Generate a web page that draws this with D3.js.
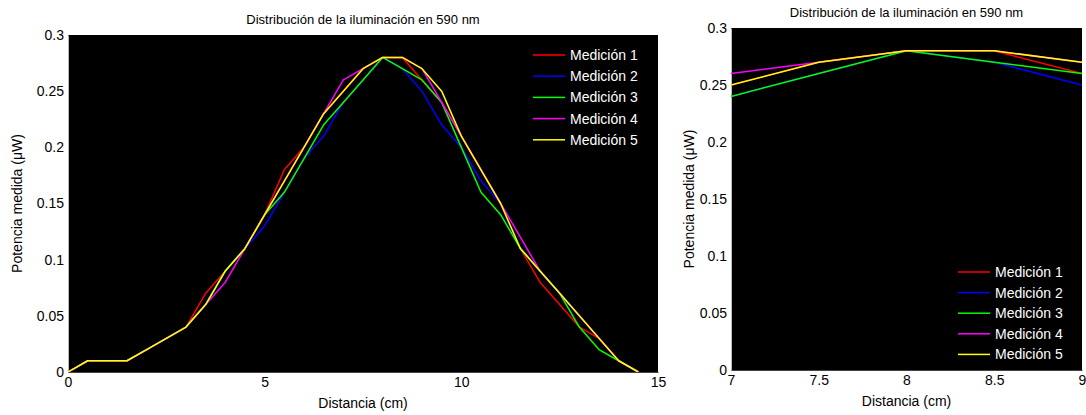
<!DOCTYPE html>
<html>
<head>
<meta charset="utf-8">
<script src="https://cdn.jsdelivr.net/npm/d3@7/dist/d3.min.js"></script>
<style>
  html, body { margin: 0; padding: 0; background: #fff; }
  svg { display: block; font-family: "Liberation Sans", Arial, sans-serif; }
</style>
</head>
<body>
<svg id="chart" width="1086" height="415"></svg>
<script>
// Distance along the sample (cm)
const distancia = [0, 0.5, 1, 1.5, 2, 2.5, 3, 3.5, 4, 4.5, 5, 5.5, 6, 6.5, 7, 7.5,
                   8, 8.5, 9, 9.5, 10, 10.5, 11, 11.5, 12, 12.5, 13, 13.5, 14, 14.5];

// Measured power (µW), five repeated measurements
const medicion1 = [0, 0.01, 0.01, 0.01, 0.02, 0.03, 0.04, 0.07, 0.09, 0.11, 0.14, 0.18, 0.20, 0.23, 0.25, 0.27,
                   0.28, 0.28, 0.26, 0.24, 0.21, 0.18, 0.15, 0.11, 0.08, 0.06, 0.04, 0.03, 0.01, 0];
const medicion2 = [0, 0.01, 0.01, 0.01, 0.02, 0.03, 0.04, 0.06, 0.09, 0.11, 0.13, 0.16, 0.19, 0.21, 0.24, 0.26,
                   0.28, 0.27, 0.25, 0.22, 0.20, 0.17, 0.15, 0.11, 0.09, 0.07, 0.05, 0.03, 0.01, 0];
const medicion3 = [0, 0.01, 0.01, 0.01, 0.02, 0.03, 0.04, 0.06, 0.09, 0.11, 0.14, 0.16, 0.19, 0.22, 0.24, 0.26,
                   0.28, 0.27, 0.26, 0.24, 0.20, 0.16, 0.14, 0.11, 0.09, 0.07, 0.04, 0.02, 0.01, 0];
const medicion4 = [0, 0.01, 0.01, 0.01, 0.02, 0.03, 0.04, 0.06, 0.08, 0.11, 0.14, 0.17, 0.20, 0.23, 0.26, 0.27,
                   0.28, 0.28, 0.27, 0.24, 0.21, 0.18, 0.15, 0.12, 0.09, 0.07, 0.05, 0.03, 0.01, 0];
const medicion5 = [0, 0.01, 0.01, 0.01, 0.02, 0.03, 0.04, 0.06, 0.09, 0.11, 0.14, 0.17, 0.20, 0.23, 0.25, 0.27,
                   0.28, 0.28, 0.27, 0.25, 0.21, 0.18, 0.15, 0.11, 0.09, 0.07, 0.05, 0.03, 0.01, 0];

const seriesNames = ["Medición 1", "Medición 2", "Medición 3", "Medición 4", "Medición 5"];
const seriesColors = ["#ff0000", "#0000ff", "#00ff00", "#ff00ff", "#ffff00"];
const seriesValues = [medicion1, medicion2, medicion3, medicion4, medicion5];

const yTicks = [0, 0.05, 0.1, 0.15, 0.2, 0.25, 0.3];
const xTicksFull = [0, 5, 10, 15];
const xTicksZoom = [7, 7.5, 8, 8.5, 9];

const titulo = "Distribución de la iluminación en 590 nm";
const xTitulo = "Distancia (cm)";
const yTitulo = "Potencia medida (\u03bcW)";

const svg = d3.select("#chart");

function drawPanel(opt) {
  const { left, right, top, bottom, xDomain, xTicks, titleY, yLabelX, legend } = opt;
  const g = svg.append("g");

  const x = d3.scaleLinear().domain(xDomain).range([left, right]);
  const y = d3.scaleLinear().domain([0, 0.3]).range([bottom, top]);

  const clipId = "clip" + Math.round(left);
  svg.append("clipPath").attr("id", clipId)
    .append("rect").attr("x", left).attr("y", top)
    .attr("width", right - left).attr("height", bottom - top);

  // plot area
  g.append("rect")
    .attr("x", left).attr("y", top)
    .attr("width", right - left).attr("height", bottom - top)
    .attr("fill", "#000");

  // axes (tick labels only; ticks are black on black)
  const yAxis = d3.axisLeft(y).tickValues(yTicks).tickSize(0).tickPadding(4)
    .tickFormat(d => d3.format("~g")(+d.toFixed(2)));
  const gy = g.append("g").attr("transform", `translate(${left},0)`).call(yAxis);
  gy.select(".domain").attr("stroke", "#bbb").attr("stroke-width", 1);
  gy.selectAll("text").attr("font-size", 14).attr("fill", "#000")
    .attr("font-family", "Liberation Sans, Arial, sans-serif");

  const xAxis = d3.axisBottom(x).tickValues(xTicks).tickSize(0).tickPadding(5)
    .tickFormat(d3.format("~g"));
  const gx = g.append("g").attr("transform", `translate(0,${bottom})`).call(xAxis);
  gx.select(".domain").attr("stroke", "#444").attr("stroke-width", 1);
  gx.selectAll("text").attr("font-size", 14).attr("fill", "#000")
    .attr("font-family", "Liberation Sans, Arial, sans-serif");

  // lines
  const line = d3.line()
    .x((d, i) => x(distancia[i]))
    .y(d => y(d));
  const lines = g.append("g").attr("clip-path", `url(#${clipId})`);
  seriesValues.forEach((vals, k) => {
    lines.append("path")
      .datum(vals)
      .attr("d", line)
      .attr("fill", "none")
      .attr("stroke", seriesColors[k])
      .attr("stroke-width", 1.5)
      .attr("stroke-linejoin", "round");
  });

  // titles
  g.append("text")
    .attr("x", (left + right) / 2).attr("y", titleY)
    .attr("text-anchor", "middle").attr("font-size", 13).attr("fill", "#000")
    .text(titulo);
  g.append("text")
    .attr("x", (left + right) / 2).attr("y", bottom + 36)
    .attr("text-anchor", "middle").attr("font-size", 14).attr("fill", "#000")
    .text(xTitulo);
  g.append("text")
    .attr("transform", `translate(${yLabelX},${(top + bottom) / 2}) rotate(-90)`)
    .attr("text-anchor", "middle").attr("font-size", 14).attr("fill", "#000")
    .text(yTitulo);

  // legend
  const lg = g.append("g").attr("transform", `translate(${legend.x},${legend.y})`);
  seriesNames.forEach((name, k) => {
    const yy = k * legend.step;
    lg.append("line")
      .attr("x1", 0).attr("x2", legend.len)
      .attr("y1", yy).attr("y2", yy)
      .attr("stroke", seriesColors[k]).attr("stroke-width", 1.5);
    lg.append("text")
      .attr("x", legend.len + 5).attr("y", yy)
      .attr("dy", "0.35em").attr("font-size", 14).attr("fill", "#fff")
      .text(name);
  });
}

drawPanel({
  left: 68, right: 658, top: 35, bottom: 372,
  xDomain: [0, 15], xTicks: xTicksFull, titleY: 24, yLabelX: 22,
  legend: { x: 533, y: 55, step: 21.2, len: 32 }
});

drawPanel({
  left: 731, right: 1082, top: 28, bottom: 370,
  xDomain: [7, 9], xTicks: xTicksZoom, titleY: 17, yLabelX: 694,
  legend: { x: 958, y: 272, step: 20.6, len: 32 }
});
</script>
</body>
</html>
